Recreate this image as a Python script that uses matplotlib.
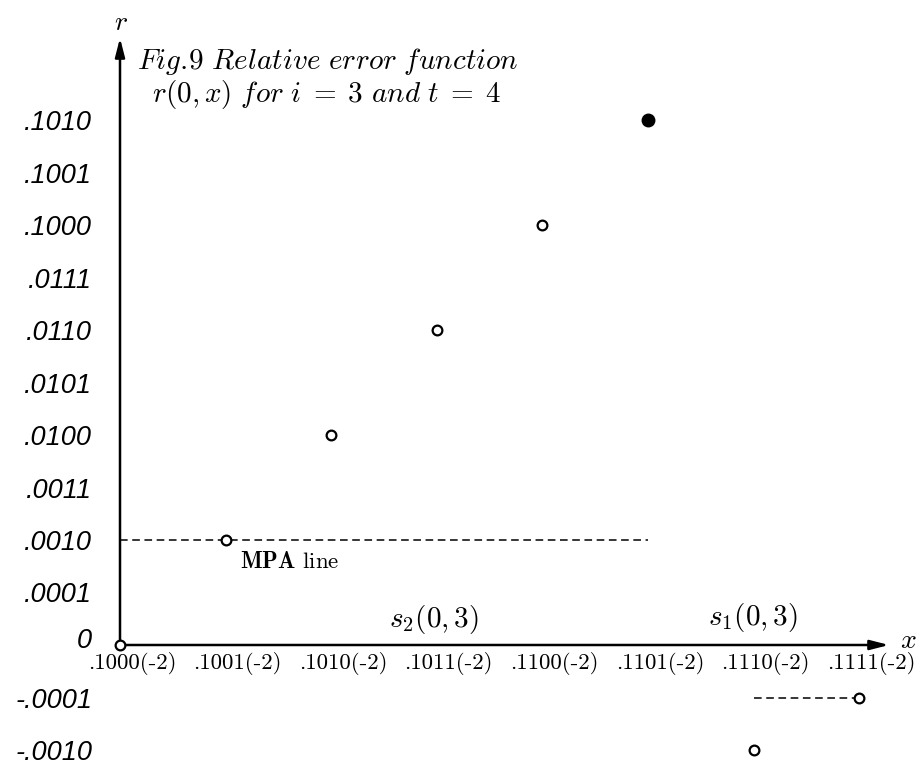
import matplotlib
matplotlib.use("Agg")
import matplotlib.pyplot as plt
from matplotlib.transforms import ScaledTranslation

plt.rcParams["mathtext.fontset"] = "cm"

# binary mantissas on the x axis, all times 2^-2
x_bits = [".1000", ".1001", ".1010", ".1011", ".1100", ".1101", ".1110", ".1111"]
x_exponent = -2

# relative error r(0, x) at each x, written as binary fractions
r_bits = ["0", ".0010", ".0100", ".0110", ".1000", ".1010", "-.0010", "-.0001"]
r_filled = [False, False, False, False, False, True, False, False]

y_tick_bits = ["-.0010", "-.0001", "0", ".0001", ".0010", ".0011", ".0100",
               ".0101", ".0110", ".0111", ".1000", ".1001", ".1010"]

# dashed segments: (x from, x to, r)
mpa_segment = (".1000", ".1101", ".0010")
s1_segment = (".1110", ".1111", "-.0001")


def bin_frac(text):
    neg = text.startswith("-")
    body = text.lstrip("-")
    if body == "0":
        return 0.0
    digits = body.lstrip(".")
    value = int(digits, 2) / 2 ** len(digits)
    return -value if neg else value


def x_val(bits):
    return bin_frac(bits) * 2.0 ** x_exponent


xs = [x_val(b) for b in x_bits]
rs = [bin_frac(b) for b in r_bits]
y_ticks = [bin_frac(b) for b in y_tick_bits]

W, H = 923, 765
fig = plt.figure(figsize=(W / 100, H / 100), dpi=100)
ax = fig.add_axes([0, 0, 1, 1])

# pixel scale of the original drawing
x0_px, y0_px = 120, 645
px_per_x = 105.6 * 64
px_per_r = 52.5 * 16
x0 = xs[0]
ax.set_xlim(x0 - x0_px / px_per_x, x0 + (W - x0_px) / px_per_x)
ax.set_ylim(-(H - y0_px) / px_per_r, y0_px / px_per_r)

for side in ax.spines:
    ax.spines[side].set_visible(False)
ax.spines["left"].set_position(("data", x0))
ax.spines["bottom"].set_position(("data", 0))
ax.patch.set_visible(False)

# axes with arrow heads
arrow = dict(arrowstyle="-|>,head_length=0.7,head_width=0.18", lw=1.8,
             color="black", shrinkA=0, shrinkB=0, mutation_scale=16)
y_top = (y0_px - 38) / px_per_r
x_end = x0 + (889 - x0_px) / px_per_x
ax.annotate("", xy=(x0, y_top), xytext=(x0, 0), arrowprops=arrow)
ax.annotate("", xy=(x_end, 0), xytext=(x0, 0), arrowprops=arrow)

# ticks
ax.set_xticks(xs, [b + "(" + str(x_exponent) + ")" for b in x_bits])
ax.set_yticks(y_ticks, y_tick_bits)
ax.tick_params(axis="x", length=0, pad=5, labelsize=16.5)
ax.tick_params(axis="y", length=0, pad=20, labelsize=19.5)
shift = ScaledTranslation(0.12, 0, fig.dpi_scale_trans)
for lab in ax.get_xticklabels():
    lab.set_fontfamily("cmr10")
    lab.set_transform(lab.get_transform() + shift)
raise_zero = ScaledTranslation(0, 0.07, fig.dpi_scale_trans)
for lab in ax.get_yticklabels():
    lab.set_fontfamily("Liberation Sans")
    lab.set_fontstyle("italic")
    if lab.get_text() == "0":
        lab.set_transform(lab.get_transform() + raise_zero)

# dashed segments
for seg in [mpa_segment, s1_segment]:
    ax.plot([x_val(seg[0]), x_val(seg[1])], [bin_frac(seg[2])] * 2,
            color="black", lw=1.1, linestyle=(0, (5, 3)), zorder=2)

# points
for x, r, filled in zip(xs, rs, r_filled):
    if filled:
        ax.plot(x, r, "o", ms=9, mfc="black", mec="black", zorder=4, clip_on=False)
    else:
        ax.plot(x, r, "o", ms=7, mfc="white", mec="black", mew=1.6, zorder=4,
                clip_on=False)


def px(x, y):
    return (x / W, 1 - y / H)


ft = fig.transFigure
ax.text(*px(121, 22), "$r$", transform=ft, fontsize=20, ha="center", va="center")
ax.text(*px(908, 640), "$x$", transform=ft, fontsize=20, ha="center", va="center")
ax.text(*px(137, 69), r"$Fig.\!9\ Relative\ error\ function$", transform=ft,
        fontsize=21, ha="left", va="baseline")
ax.text(*px(152, 102), r"$r(0,x)\ for\ i\;=\;3\ and\ t\;=\;4$", transform=ft,
        fontsize=21, ha="left", va="baseline")
ax.text(*px(240, 562), r"$\mathbf{MPA}$ line", transform=ft, fontsize=16.5,
        fontfamily="cmr10", ha="left", va="center")
ax.text(*px(434, 620), r"$s_2(0,3)$", transform=ft, fontsize=21,
        ha="center", va="center")
ax.text(*px(753, 617), r"$s_1(0,3)$", transform=ft, fontsize=21,
        ha="center", va="center")

fig.savefig("out.png", dpi=100)
